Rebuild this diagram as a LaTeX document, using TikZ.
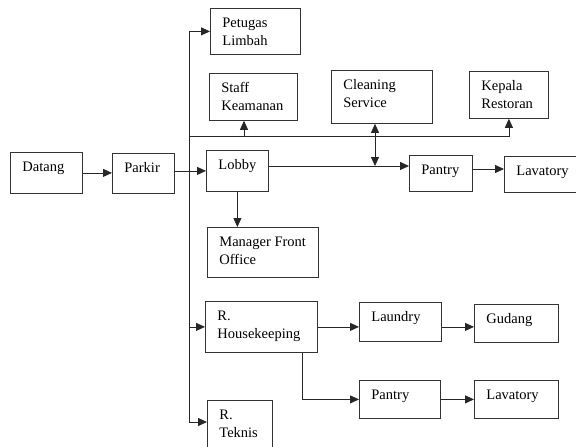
\documentclass[tikz,border=0pt]{standalone}
\usepackage{fontspec}
\setmainfont{Liberation Serif}
\usetikzlibrary{arrows.meta,calc}
\newcommand\boxtext[3]{\parbox[t][#2pt][t]{#1pt}{\raggedright\leftskip=12pt\rule{0pt}{19pt}#3}}
\begin{document}
\begin{tikzpicture}[x=1pt,y=-1pt,
  font=\fontsize{14.5}{18}\selectfont,
  box/.style={draw=black!80, line width=0.8pt, inner sep=0pt, anchor=north west},
  conn/.style={draw=black!85, line width=0.8pt},
  tip/.tip={Triangle[length=9pt,width=8pt]},
  arr/.style={conn, -tip}]
\useasboundingbox (0,0) rectangle (576,447);

% boxes
\node[box] (datang)   at (10,152)  {\boxtext{72}{41}{Datang}};
\node[box] (parkir)   at (112,153) {\boxtext{62}{40}{Parkir}};
\node[box] (lobby)    at (206,150) {\boxtext{62}{41}{Lobby}};
\node[box] (petugas)  at (210,8)   {\boxtext{90}{46}{Petugas\\Limbah}};
\node[box] (staff)    at (209,73)  {\boxtext{88}{47}{Staff\\Keamanan}};
\node[box] (cleaning) at (331,70)  {\boxtext{101}{53}{Cleaning\\Service}};
\node[box] (kepala)   at (469,71)  {\boxtext{79}{47}{Kepala\\Restoran}};
\node[box] (pantryA)  at (409,155) {\boxtext{63}{36}{Pantry}};
\node[box] (lavA)     at (504,156) {\boxtext{80}{36}{Lavatory}};
\node[box] (manager)  at (207,227) {\boxtext{111}{50}{Manager Front\\Office}};
\node[box] (hk)       at (205,301) {\boxtext{112}{51}{R.\\Housekeeping}};
\node[box] (laundry)  at (359,302) {\boxtext{82}{39}{Laundry}};
\node[box] (gudang)   at (474,304) {\boxtext{84}{38}{Gudang}};
\node[box] (pantryB)  at (359,380) {\boxtext{81}{38}{Pantry}};
\node[box] (lavB)     at (474,380) {\boxtext{84}{38}{Lavatory}};
\node[box] (teknis)   at (207,400) {\boxtext{65}{60}{R.\\Teknis}};

% helper coordinates
\coordinate (trunk) at (189,0);
\coordinate (tek) at ($(teknis.north west)+(0,22)$);
\coordinate (hl) at (0,136);
\coordinate (ll) at (0,166);
\coordinate (pl) at (0,169);
\coordinate (st) at ($(staff.south west)+(35,0)$);
\coordinate (cs) at ($(cleaning.south west)+(44,0)$);
\coordinate (hkd) at ($(hk.south west)+(97,0)$);

% connectors
\draw[arr] (datang.east) -- (datang.east -| parkir.west);
\draw[arr] (parkir.east |- lobby.west) -- (lobby.west);
\draw[conn] (trunk |- petugas.west) -- (trunk |- tek);
\draw[arr] (trunk |- petugas.west) -- (petugas.west);
\draw[arr] (trunk |- hk.west) -- (hk.west);
\draw[arr] (trunk |- tek) -- (tek);
\draw[arr] (trunk |- hl) -| (kepala.south);
\draw[arr] (st |- hl) -- (st);
\draw[arr] (lobby.east |- ll) -- (pantryA.west |- ll);
\draw[conn, tip-tip] (cs) -- (cs |- ll);
\draw[arr] (pantryA.east |- pl) -- (lavA.west |- pl);
\draw[arr] (lobby.south) -- (lobby.south |- manager.north);
\draw[arr] (hk.east) -- (hk.east -| laundry.west);
\draw[arr] (laundry.east |- hk.east) -- (gudang.west |- hk.east);
\draw[arr] (hkd) |- (pantryB.west);
\draw[arr] (pantryB.east) -- (lavB.west);
\end{tikzpicture}
\end{document}
